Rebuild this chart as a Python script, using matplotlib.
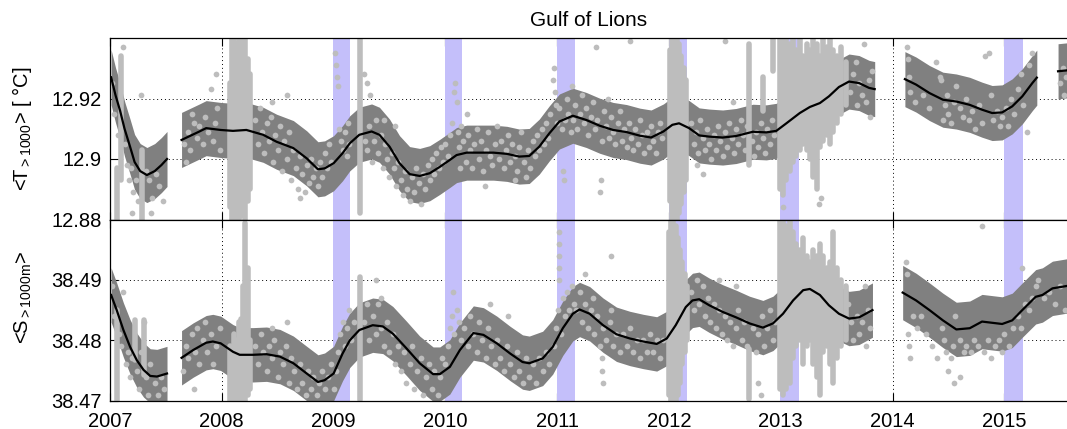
import numpy as np
import matplotlib
matplotlib.use("Agg")
import matplotlib.pyplot as plt

plt.rcParams["font.family"] = ["Liberation Sans", "DejaVu Sans"]
plt.rcParams["mathtext.fontset"] = "custom"
plt.rcParams["mathtext.rm"] = "Liberation Sans"
plt.rcParams["mathtext.it"] = "Liberation Sans"

# ---- data ----
# winter convection periods (purple bands)
winter_start = [2008.995, 2009.995, 2010.997, 2011.996, 2012.996, 2014.998]
winter_end = [2009.15, 2010.15, 2011.16, 2012.16, 2013.165, 2015.165]

# smoothed mean temperature >1000 m, one list per continuous segment
t_years = [
    [2007.01, 2007.05, 2007.09, 2007.13, 2007.18, 2007.22, 2007.27, 2007.33, 2007.40, 2007.46, 2007.51],
    [2007.64, 2007.80, 2007.86, 2007.99, 2008.10, 2008.22, 2008.37, 2008.49, 2008.64, 2008.76,
     2008.86, 2008.92, 2009.00, 2009.08, 2009.145, 2009.23, 2009.34, 2009.41, 2009.50, 2009.59,
     2009.68, 2009.77, 2009.86, 2009.95, 2010.04, 2010.10, 2010.19, 2010.31, 2010.43, 2010.55,
     2010.66, 2010.75, 2010.84, 2010.93, 2011.02, 2011.14, 2011.26, 2011.38, 2011.50, 2011.62,
     2011.74, 2011.84, 2011.95, 2012.03, 2012.09, 2012.18, 2012.27, 2012.36, 2012.48, 2012.60,
     2012.75, 2012.87, 2012.96, 2013.05, 2013.17, 2013.26, 2013.35, 2013.43, 2013.52, 2013.61,
     2013.70, 2013.79, 2013.84],
    [2014.11, 2014.21, 2014.33, 2014.45, 2014.57, 2014.69, 2014.80, 2014.89, 2014.98, 2015.07,
     2015.16, 2015.25, 2015.29],
    [2015.48, 2015.56],
]
t_mean = [
    [12.927, 12.921, 12.916, 12.910, 12.904, 12.899, 12.896, 12.8947, 12.896, 12.898, 12.900],
    [12.9063, 12.9091, 12.9102, 12.9096, 12.9093, 12.9096, 12.9080, 12.9057, 12.9036, 12.9002,
     12.8966, 12.8969, 12.8986, 12.9019, 12.9052, 12.9080, 12.9091, 12.9080, 12.9041, 12.8986,
     12.8950, 12.8944, 12.8953, 12.8974, 12.8997, 12.9013, 12.9021, 12.9021, 12.9021, 12.9017,
     12.9008, 12.9010, 12.9041, 12.9085, 12.9124, 12.9143, 12.9129, 12.9110, 12.9096, 12.9089,
     12.9077, 12.9071, 12.9091, 12.9113, 12.9118, 12.9102, 12.9078, 12.9074, 12.9071, 12.9076,
     12.9090, 12.9088, 12.9093, 12.9118, 12.9152, 12.9172, 12.9185, 12.9207, 12.9238, 12.9256,
     12.9251, 12.9235, 12.9231],
    [12.9264, 12.9246, 12.9218, 12.9196, 12.9190, 12.9179, 12.9163, 12.9152, 12.9154, 12.9174,
     12.9207, 12.9251, 12.9269],
    [12.9290, 12.9293],
]
t_err = 0.0091

# smoothed mean salinity >1000 m
s_years = [
    [2007.01, 2007.06, 2007.12, 2007.18, 2007.24, 2007.30, 2007.36, 2007.42, 2007.51],
    [2007.64, 2007.745, 2007.86, 2007.92, 2007.99, 2008.10, 2008.16, 2008.28, 2008.40, 2008.52,
     2008.64, 2008.76, 2008.86, 2008.92, 2009.00, 2009.08, 2009.145, 2009.23, 2009.35, 2009.44,
     2009.53, 2009.65, 2009.77, 2009.89, 2009.95, 2010.04, 2010.13, 2010.25, 2010.34, 2010.46,
     2010.58, 2010.69, 2010.75, 2010.87, 2010.96, 2011.05, 2011.14, 2011.20, 2011.29, 2011.41,
     2011.53, 2011.65, 2011.77, 2011.89, 2011.98, 2012.06, 2012.15, 2012.21, 2012.27, 2012.36,
     2012.48, 2012.60, 2012.72, 2012.84, 2012.93, 2013.02, 2013.11, 2013.20, 2013.26, 2013.35,
     2013.43, 2013.52, 2013.61, 2013.70, 2013.82],
    [2014.09, 2014.21, 2014.33, 2014.45, 2014.57, 2014.69, 2014.80, 2014.89, 2014.98, 2015.07,
     2015.16, 2015.28, 2015.34, 2015.43, 2015.56],
]
s_mean = [
    [38.4875, 38.4850, 38.4817, 38.4789, 38.4767, 38.4751, 38.4741, 38.4740, 38.4745],
    [38.4771, 38.4784, 38.4796, 38.4798, 38.4795, 38.4781, 38.4776, 38.4776, 38.4777, 38.4773,
     38.4762, 38.4745, 38.4731, 38.4734, 38.4745, 38.4778, 38.4800, 38.4817, 38.4825, 38.4823,
     38.4811, 38.4787, 38.4762, 38.4744, 38.4744, 38.4756, 38.4784, 38.4812, 38.4809, 38.4795,
     38.4778, 38.4764, 38.4762, 38.4770, 38.4789, 38.4820, 38.4844, 38.4851, 38.4844, 38.4825,
     38.4810, 38.4803, 38.4798, 38.4794, 38.4803, 38.4825, 38.4855, 38.4866, 38.4868, 38.4858,
     38.4847, 38.4838, 38.4828, 38.4821, 38.4828, 38.4844, 38.4866, 38.4883, 38.4885, 38.4875,
     38.4858, 38.4844, 38.4836, 38.4838, 38.4850],
    [38.4879, 38.4866, 38.4850, 38.4833, 38.4818, 38.4820, 38.4831, 38.4829, 38.4827, 38.4833,
     38.4850, 38.4872, 38.4875, 38.4886, 38.4890],
]
s_err = 0.0045

# dense vertical runs of profiles: (year, lowest, highest)
t_runs = [
    (2007.06, 12.880, 12.897), (2007.10, 12.893, 12.934), (2007.29, 12.880, 12.903),
    (2008.07, 12.884, 12.925), (2008.09, 12.880, 12.940), (2008.11, 12.880, 12.940),
    (2008.13, 12.880, 12.938), (2008.15, 12.880, 12.940), (2008.17, 12.881, 12.940),
    (2008.19, 12.882, 12.936), (2008.21, 12.880, 12.940), (2008.23, 12.886, 12.933),
    (2008.25, 12.890, 12.928), (2009.24, 12.882, 12.940),
    (2012.01, 12.886, 12.936), (2012.03, 12.880, 12.940), (2012.05, 12.880, 12.940),
    (2012.07, 12.880, 12.940), (2012.09, 12.882, 12.938), (2012.11, 12.885, 12.934),
    (2012.13, 12.889, 12.930), (2012.15, 12.893, 12.926),
    (2012.72, 12.898, 12.938), (2012.84, 12.916, 12.927), (2012.93, 12.929, 12.940),
    (2012.99, 12.890, 12.940), (2013.02, 12.888, 12.940), (2013.05, 12.893, 12.940),
    (2013.08, 12.896, 12.938), (2013.11, 12.899, 12.940), (2013.14, 12.901, 12.936),
    (2013.17, 12.903, 12.940), (2013.20, 12.905, 12.934), (2013.23, 12.903, 12.938),
    (2013.26, 12.900, 12.936), (2013.29, 12.894, 12.940), (2013.32, 12.890, 12.938),
    (2013.35, 12.904, 12.934), (2013.38, 12.906, 12.940), (2013.41, 12.908, 12.937),
    (2013.44, 12.905, 12.940), (2013.47, 12.909, 12.936), (2013.50, 12.912, 12.934),
    (2013.54, 12.915, 12.937), (2013.58, 12.918, 12.932),
]
s_runs = [
    (2007.06, 38.470, 38.485), (2007.22, 38.4767, 38.4833), (2007.30, 38.4742, 38.4833),
    (2008.07, 38.470, 38.479), (2008.09, 38.470, 38.478), (2008.11, 38.470, 38.481),
    (2008.13, 38.470, 38.480), (2008.15, 38.470, 38.483), (2008.17, 38.470, 38.4835),
    (2008.19, 38.470, 38.489), (2008.21, 38.470, 38.4995), (2008.23, 38.471, 38.492),
    (2008.25, 38.472, 38.480), (2009.24, 38.4701, 38.4905),
    (2012.00, 38.471, 38.498), (2012.02, 38.470, 38.500), (2012.04, 38.470, 38.500),
    (2012.06, 38.470, 38.499), (2012.08, 38.471, 38.497), (2012.10, 38.473, 38.495),
    (2012.12, 38.476, 38.493), (2012.14, 38.478, 38.491), (2012.16, 38.480, 38.489),
    (2012.72, 38.4703, 38.4785),
    (2012.99, 38.472, 38.500), (2013.02, 38.471, 38.500), (2013.05, 38.472, 38.499),
    (2013.08, 38.473, 38.500), (2013.11, 38.477, 38.498), (2013.14, 38.479, 38.496),
    (2013.17, 38.480, 38.495), (2013.20, 38.476, 38.497), (2013.23, 38.479, 38.494),
    (2013.26, 38.480, 38.493), (2013.29, 38.476, 38.495), (2013.32, 38.474, 38.494),
    (2013.35, 38.471, 38.496), (2013.38, 38.478, 38.494), (2013.41, 38.479, 38.492),
    (2013.44, 38.476, 38.493), (2013.47, 38.473, 38.498), (2013.50, 38.477, 38.492),
    (2013.54, 38.479, 38.490), (2013.58, 38.480, 38.489),
]

# individual profile values (year, value)
t_points = [
    (2007.02, 12.925), (2007.04, 12.915), (2007.07, 12.908), (2007.13, 12.905), (2007.15, 12.898),
    (2007.17, 12.893), (2007.19, 12.897), (2007.21, 12.889), (2007.23, 12.893), (2007.25, 12.886),
    (2007.32, 12.896), (2007.35, 12.893), (2007.38, 12.887), (2007.41, 12.895), (2007.44, 12.891),
    (2007.47, 12.886), (2007.37, 12.882), (2007.20, 12.882), (2007.28, 12.921), (2007.12, 12.937),
    (2007.66, 12.905), (2007.70, 12.909), (2007.72, 12.903), (2007.75, 12.912), (2007.78, 12.907),
    (2007.80, 12.911), (2007.83, 12.905), (2007.85, 12.914), (2007.88, 12.909), (2007.90, 12.923),
    (2007.92, 12.906), (2007.94, 12.912), (2007.96, 12.917), (2007.98, 12.903), (2007.73, 12.915),
    (2007.68, 12.899), (2007.95, 12.928),
    (2008.30, 12.913), (2008.32, 12.905), (2008.34, 12.917), (2008.36, 12.909), (2008.38, 12.902),
    (2008.40, 12.912), (2008.42, 12.906), (2008.44, 12.914), (2008.46, 12.899), (2008.48, 12.908),
    (2008.50, 12.903), (2008.52, 12.911), (2008.54, 12.896), (2008.56, 12.906), (2008.58, 12.900),
    (2008.60, 12.909), (2008.62, 12.893), (2008.64, 12.903), (2008.66, 12.897), (2008.68, 12.890),
    (2008.70, 12.901), (2008.72, 12.895), (2008.74, 12.889), (2008.76, 12.898), (2008.78, 12.892),
    (2008.80, 12.900), (2008.82, 12.894), (2008.84, 12.897), (2008.86, 12.891), (2008.88, 12.899),
    (2008.90, 12.894), (2008.92, 12.902), (2008.94, 12.897), (2008.96, 12.905), (2008.98, 12.899),
    (2008.58, 12.921), (2008.45, 12.919), (2008.70, 12.887),
    (2009.01, 12.935), (2009.02, 12.931), (2009.03, 12.927), (2009.04, 12.924), (2009.05, 12.910),
    (2009.07, 12.906), (2009.08, 12.903), (2009.10, 12.909), (2009.12, 12.901), (2009.13, 12.912),
    (2009.14, 12.905), (2009.27, 12.928), (2009.30, 12.925), (2009.33, 12.921),
    (2009.28, 12.906), (2009.30, 12.903), (2009.32, 12.911), (2009.34, 12.899), (2009.36, 12.906),
    (2009.38, 12.913), (2009.40, 12.902), (2009.42, 12.908), (2009.44, 12.897), (2009.46, 12.905),
    (2009.48, 12.900), (2009.50, 12.894), (2009.52, 12.902), (2009.54, 12.897), (2009.56, 12.891),
    (2009.58, 12.899), (2009.60, 12.893), (2009.62, 12.888), (2009.64, 12.896), (2009.66, 12.890),
    (2009.68, 12.886), (2009.70, 12.894), (2009.72, 12.889), (2009.74, 12.897), (2009.76, 12.892),
    (2009.78, 12.885), (2009.80, 12.895), (2009.82, 12.890), (2009.84, 12.898), (2009.86, 12.893),
    (2009.88, 12.900), (2009.90, 12.895), (2009.92, 12.902), (2009.94, 12.897), (2009.96, 12.904),
    (2009.98, 12.899), (2009.45, 12.913), (2009.55, 12.911),
    (2010.00, 12.905), (2010.02, 12.901), (2010.04, 12.908), (2010.06, 12.912), (2010.08, 12.922),
    (2010.09, 12.925), (2010.10, 12.919), (2010.11, 12.909), (2010.12, 12.904), (2010.14, 12.911),
    (2010.13, 12.897),
    (2010.16, 12.906), (2010.18, 12.899), (2010.20, 12.908), (2010.22, 12.903), (2010.24, 12.897),
    (2010.26, 12.905), (2010.28, 12.910), (2010.30, 12.900), (2010.32, 12.906), (2010.34, 12.896),
    (2010.36, 12.903), (2010.38, 12.909), (2010.40, 12.901), (2010.42, 12.898), (2010.44, 12.905),
    (2010.46, 12.911), (2010.48, 12.900), (2010.50, 12.906), (2010.52, 12.897), (2010.54, 12.903),
    (2010.56, 12.908), (2010.58, 12.899), (2010.60, 12.905), (2010.62, 12.901), (2010.64, 12.896),
    (2010.66, 12.904), (2010.68, 12.909), (2010.70, 12.899), (2010.72, 12.894), (2010.74, 12.903),
    (2010.76, 12.897), (2010.78, 12.906), (2010.80, 12.901), (2010.82, 12.908), (2010.84, 12.903),
    (2010.86, 12.910), (2010.88, 12.905), (2010.90, 12.912), (2010.92, 12.907), (2010.94, 12.915),
    (2010.35, 12.891), (2010.62, 12.893), (2010.19, 12.915),
    (2010.96, 12.926), (2010.97, 12.930), (2010.98, 12.922), (2010.99, 12.918), (2011.00, 12.912),
    (2011.02, 12.917), (2011.04, 12.910), (2011.05, 12.896), (2011.06, 12.893), (2011.07, 12.913),
    (2011.09, 12.920), (2011.10, 12.915), (2011.12, 12.909), (2011.13, 12.924), (2011.14, 12.913),
    (2011.16, 12.918), (2011.18, 12.910), (2011.20, 12.915), (2011.22, 12.921), (2011.24, 12.912),
    (2011.26, 12.917), (2011.28, 12.908), (2011.30, 12.914), (2011.32, 12.919), (2011.34, 12.910),
    (2011.36, 12.913), (2011.38, 12.889), (2011.39, 12.893), (2011.40, 12.906), (2011.42, 12.916),
    (2011.44, 12.911), (2011.46, 12.907), (2011.48, 12.914), (2011.50, 12.909), (2011.52, 12.905),
    (2011.54, 12.912), (2011.56, 12.916), (2011.58, 12.906), (2011.60, 12.910), (2011.62, 12.904),
    (2011.64, 12.912), (2011.66, 12.907), (2011.68, 12.903), (2011.70, 12.910), (2011.72, 12.905),
    (2011.74, 12.913), (2011.76, 12.908), (2011.78, 12.902), (2011.80, 12.909), (2011.82, 12.904),
    (2011.84, 12.911), (2011.86, 12.906), (2011.88, 12.902), (2011.90, 12.909), (2011.92, 12.912),
    (2011.94, 12.907), (2011.35, 12.937), (2011.65, 12.939), (2011.45, 12.920),
    (2012.20, 12.912), (2012.22, 12.905), (2012.24, 12.909), (2012.26, 12.902), (2012.28, 12.913),
    (2012.30, 12.907), (2012.32, 12.903), (2012.34, 12.910), (2012.36, 12.905), (2012.38, 12.900),
    (2012.40, 12.908), (2012.42, 12.903), (2012.44, 12.911), (2012.46, 12.906), (2012.48, 12.901),
    (2012.50, 12.909), (2012.52, 12.904), (2012.54, 12.912), (2012.56, 12.907), (2012.58, 12.902),
    (2012.60, 12.910), (2012.62, 12.905), (2012.64, 12.913), (2012.66, 12.908), (2012.68, 12.903),
    (2012.70, 12.911), (2012.74, 12.906), (2012.76, 12.901), (2012.78, 12.909), (2012.80, 12.904),
    (2012.82, 12.912), (2012.84, 12.907), (2012.86, 12.902), (2012.88, 12.910), (2012.90, 12.905),
    (2012.92, 12.913), (2012.94, 12.908), (2012.25, 12.898), (2012.30, 12.895), (2012.57, 12.919),
    (2012.50, 12.939),
    (2013.62, 12.922), (2013.65, 12.928), (2013.67, 12.932), (2013.68, 12.918), (2013.70, 12.925),
    (2013.73, 12.921), (2013.74, 12.938), (2013.76, 12.919), (2013.79, 12.926), (2013.80, 12.914),
    (2013.82, 12.929), (2013.34, 12.885), (2013.36, 12.887), (2013.02, 12.884),
    (2014.13, 12.937), (2014.14, 12.933), (2014.15, 12.927), (2014.16, 12.922), (2014.20, 12.919),
    (2014.27, 12.921), (2014.33, 12.917), (2014.39, 12.932), (2014.42, 12.927), (2014.43, 12.926),
    (2014.45, 12.913), (2014.47, 12.918), (2014.49, 12.921), (2014.50, 12.915), (2014.52, 12.912),
    (2014.55, 12.919), (2014.57, 12.924), (2014.60, 12.917), (2014.63, 12.914), (2014.66, 12.920),
    (2014.68, 12.913), (2014.71, 12.916), (2014.74, 12.910), (2014.77, 12.918), (2014.80, 12.912),
    (2014.83, 12.934), (2014.86, 12.935), (2014.88, 12.921), (2014.90, 12.913), (2014.93, 12.916),
    (2014.96, 12.911), (2014.98, 12.914), (2015.01, 12.917), (2015.03, 12.911), (2015.06, 12.920),
    (2015.09, 12.915), (2015.12, 12.923), (2015.15, 12.928), (2015.17, 12.918), (2015.20, 12.909),
    (2015.22, 12.931), (2015.25, 12.935),
    (2015.50, 12.925), (2015.52, 12.930), (2015.53, 12.921), (2015.55, 12.927),
]
s_points = [
    (2007.02, 38.489), (2007.04, 38.484), (2007.08, 38.481), (2007.10, 38.479), (2007.12, 38.488),
    (2007.14, 38.476), (2007.16, 38.478), (2007.18, 38.474), (2007.20, 38.477), (2007.24, 38.475),
    (2007.26, 38.472), (2007.28, 38.478), (2007.32, 38.474), (2007.34, 38.471), (2007.36, 38.476),
    (2007.40, 38.473), (2007.43, 38.471), (2007.46, 38.474), (2007.48, 38.472), (2007.30, 38.483),
    (2007.65, 38.475), (2007.68, 38.479), (2007.70, 38.477), (2007.73, 38.481), (2007.76, 38.478),
    (2007.78, 38.482), (2007.80, 38.476), (2007.83, 38.480), (2007.85, 38.483), (2007.87, 38.478),
    (2007.90, 38.481), (2007.92, 38.476), (2007.95, 38.479), (2007.98, 38.482), (2007.75, 38.472),
    (2008.30, 38.479), (2008.32, 38.476), (2008.35, 38.481), (2008.37, 38.478), (2008.40, 38.475),
    (2008.42, 38.479), (2008.45, 38.477), (2008.47, 38.480), (2008.50, 38.474), (2008.52, 38.478),
    (2008.55, 38.476), (2008.57, 38.479), (2008.60, 38.473), (2008.62, 38.477), (2008.65, 38.475),
    (2008.67, 38.472), (2008.70, 38.476), (2008.72, 38.473), (2008.75, 38.471), (2008.77, 38.475),
    (2008.80, 38.472), (2008.82, 38.474), (2008.85, 38.471), (2008.87, 38.473), (2008.90, 38.475),
    (2008.92, 38.472), (2008.95, 38.474), (2008.98, 38.476), (2008.58, 38.483), (2008.45, 38.482),
    (2009.00, 38.472), (2009.02, 38.475), (2009.04, 38.478), (2009.06, 38.481), (2009.08, 38.483),
    (2009.10, 38.479), (2009.12, 38.482), (2009.14, 38.485), (2009.16, 38.480), (2009.18, 38.483),
    (2009.27, 38.483), (2009.30, 38.486), (2009.32, 38.480), (2009.35, 38.484), (2009.38, 38.481),
    (2009.40, 38.486), (2009.42, 38.482), (2009.45, 38.479), (2009.48, 38.483), (2009.50, 38.478),
    (2009.53, 38.481), (2009.55, 38.476), (2009.58, 38.479), (2009.60, 38.475), (2009.63, 38.478),
    (2009.65, 38.473), (2009.68, 38.476), (2009.70, 38.479), (2009.72, 38.472), (2009.75, 38.475),
    (2009.78, 38.477), (2009.80, 38.471), (2009.83, 38.474), (2009.85, 38.476), (2009.88, 38.472),
    (2009.90, 38.475), (2009.93, 38.471), (2009.95, 38.474), (2009.97, 38.477), (2009.38, 38.490),
    (2009.42, 38.487),
    (2010.00, 38.476), (2010.02, 38.479), (2010.04, 38.482), (2010.06, 38.484), (2010.08, 38.481),
    (2010.10, 38.485), (2010.12, 38.483), (2010.14, 38.480), (2010.07, 38.488),
    (2010.17, 38.482), (2010.20, 38.479), (2010.22, 38.484), (2010.25, 38.481), (2010.28, 38.478),
    (2010.30, 38.483), (2010.33, 38.480), (2010.36, 38.477), (2010.38, 38.482), (2010.41, 38.479),
    (2010.44, 38.476), (2010.46, 38.480), (2010.49, 38.477), (2010.52, 38.475), (2010.55, 38.479),
    (2010.58, 38.476), (2010.61, 38.474), (2010.64, 38.478), (2010.66, 38.475), (2010.69, 38.473),
    (2010.72, 38.477), (2010.75, 38.474), (2010.78, 38.476), (2010.81, 38.473), (2010.84, 38.477),
    (2010.87, 38.475), (2010.90, 38.478), (2010.93, 38.476), (2010.40, 38.486), (2010.56, 38.484),
    (2010.97, 38.479), (2010.99, 38.482), (2011.01, 38.485), (2011.03, 38.481), (2011.05, 38.487),
    (2011.07, 38.484), (2011.09, 38.488), (2011.11, 38.485), (2011.13, 38.489), (2011.15, 38.486),
    (2011.02, 38.490), (2011.02, 38.492), (2011.02, 38.494), (2011.02, 38.496), (2011.02, 38.498),
    (2011.17, 38.485), (2011.20, 38.488), (2011.22, 38.483), (2011.25, 38.486), (2011.28, 38.482),
    (2011.30, 38.485), (2011.33, 38.481), (2011.36, 38.484), (2011.38, 38.479), (2011.41, 38.482),
    (2011.44, 38.480), (2011.47, 38.483), (2011.50, 38.479), (2011.53, 38.481), (2011.56, 38.478),
    (2011.59, 38.481), (2011.62, 38.479), (2011.65, 38.482), (2011.68, 38.478), (2011.71, 38.480),
    (2011.74, 38.477), (2011.77, 38.480), (2011.80, 38.478), (2011.83, 38.481), (2011.86, 38.478),
    (2011.89, 38.480), (2011.92, 38.477), (2011.95, 38.480), (2011.32, 38.487), (2011.25, 38.491),
    (2011.48, 38.485), (2011.40, 38.477), (2011.40, 38.475), (2011.41, 38.473), (2011.48, 38.494),
    (2012.20, 38.488), (2012.22, 38.485), (2012.25, 38.490), (2012.27, 38.486), (2012.30, 38.489),
    (2012.32, 38.484), (2012.35, 38.487), (2012.37, 38.483), (2012.40, 38.486), (2012.42, 38.482),
    (2012.45, 38.485), (2012.47, 38.481), (2012.50, 38.484), (2012.52, 38.480), (2012.55, 38.483),
    (2012.57, 38.479), (2012.60, 38.482), (2012.62, 38.485), (2012.65, 38.480), (2012.67, 38.483),
    (2012.70, 38.479), (2012.75, 38.482), (2012.78, 38.478), (2012.80, 38.481), (2012.83, 38.484),
    (2012.85, 38.479), (2012.88, 38.482), (2012.90, 38.485), (2012.93, 38.480), (2012.95, 38.483),
    (2012.45, 38.490), (2012.60, 38.489), (2012.80, 38.473), (2012.82, 38.471),
    (2013.60, 38.486), (2013.63, 38.483), (2013.65, 38.480), (2013.68, 38.484), (2013.70, 38.481),
    (2013.73, 38.483), (2013.76, 38.479), (2013.78, 38.485), (2013.80, 38.482), (2013.75, 38.489),
    (2014.12, 38.493), (2014.13, 38.491), (2014.14, 38.481), (2014.15, 38.479), (2014.16, 38.477),
    (2014.18, 38.484), (2014.22, 38.482), (2014.25, 38.484), (2014.30, 38.481), (2014.35, 38.479),
    (2014.40, 38.477), (2014.44, 38.482), (2014.46, 38.480), (2014.48, 38.478), (2014.50, 38.475),
    (2014.52, 38.477), (2014.54, 38.479), (2014.56, 38.484), (2014.60, 38.480), (2014.64, 38.478),
    (2014.66, 38.479), (2014.70, 38.478), (2014.73, 38.480), (2014.76, 38.479), (2014.80, 38.499),
    (2014.82, 38.478), (2014.85, 38.480), (2014.88, 38.477), (2014.92, 38.479), (2014.95, 38.480),
    (2014.98, 38.478), (2015.00, 38.481), (2015.04, 38.479), (2015.08, 38.482), (2015.12, 38.484),
    (2015.15, 38.482), (2015.18, 38.486), (2015.22, 38.485), (2015.25, 38.487), (2015.28, 38.489),
    (2015.30, 38.490), (2015.35, 38.487), (2015.40, 38.488), (2015.45, 38.486), (2015.50, 38.489),
    (2015.54, 38.485), (2014.60, 38.474), (2014.55, 38.473), (2015.16, 38.492),
]

year_ticks = [2007, 2008, 2009, 2010, 2011, 2012, 2013, 2014, 2015]
t_ticks = [12.88, 12.9, 12.92]
t_ticklabels = ["12.88", "12.9", "12.92"]
s_ticks = [38.47, 38.48, 38.49]
s_ticklabels = ["38.47", "38.48", "38.49"]

# ---- figure ----
W, H = 1067, 429
fig = plt.figure(figsize=(W / 100, H / 100), dpi=100)
left = 110 / W
ax_t = fig.add_axes([left, 1 - 219.5 / H, 1 - left, (219.5 - 38) / H])
ax_s = fig.add_axes([left, 1 - 400.7 / H, 1 - left, (400.7 - 219.5) / H], sharex=ax_t)

PURPLE = "#c4bffa"
BAND = "#808080"
DOTS = "#bdbdbd"


def draw_panel(ax, years, mean, err, runs, points, ylim):
    for a, b in zip(winter_start, winter_end):
        ax.axvspan(a, b, color=PURPLE, lw=0, zorder=0.6)
    for yr, m in zip(years, mean):
        yr = np.array(yr)
        m = np.array(m)
        ax.fill_between(yr, m - err, m + err, color=BAND, lw=0, zorder=1)
    rx, rlo, rhi = zip(*runs)
    ax.vlines(rx, rlo, rhi, color=DOTS, lw=4.0, zorder=2, capstyle="round")
    px, py = zip(*points)
    ax.scatter(px, py, s=17, color=DOTS, lw=0, zorder=2)
    for yr, m in zip(years, mean):
        ax.plot(yr, m, color="black", lw=1.6, zorder=3)
    ax.set_ylim(*ylim)
    ax.set_xlim(2007, 2015.56)
    ax.set_axisbelow(True)
    ax.grid(True, color="black", lw=0.7, linestyle=(0, (1, 3)))
    ax.tick_params(direction="in", length=6, width=0.8, labelsize=14.5,
                   top=True, right=False, pad=6)
    ax.tick_params(axis="x", pad=8)
    ax.spines["right"].set_visible(False)
    for sp in ("left", "top", "bottom"):
        ax.spines[sp].set_linewidth(0.9)


draw_panel(ax_t, t_years, t_mean, t_err, t_runs, t_points, (12.88, 12.94))
draw_panel(ax_s, s_years, s_mean, s_err, s_runs, s_points, (38.47, 38.50))

ax_t.set_yticks(t_ticks)
ax_t.set_yticklabels(t_ticklabels)
ax_s.set_yticks(s_ticks)
ax_s.set_yticklabels(s_ticklabels)
ax_s.set_xticks(year_ticks)
ax_s.set_xticklabels([str(y) for y in year_ticks])
plt.setp(ax_t.get_xticklabels(), visible=False)

ax_t.set_ylabel("<T$_{{>}1000}$> [ °C]", fontsize=14.5)
ax_s.set_ylabel("<S$_{{>}1000m}$>", fontsize=14.5)
ax_t.yaxis.set_label_coords(-0.079, 0.5)
ax_s.yaxis.set_label_coords(-0.079, 0.57)

ax_t.set_title("Gulf of Lions", fontsize=15, pad=9)

fig.savefig("out.png", dpi=100)
